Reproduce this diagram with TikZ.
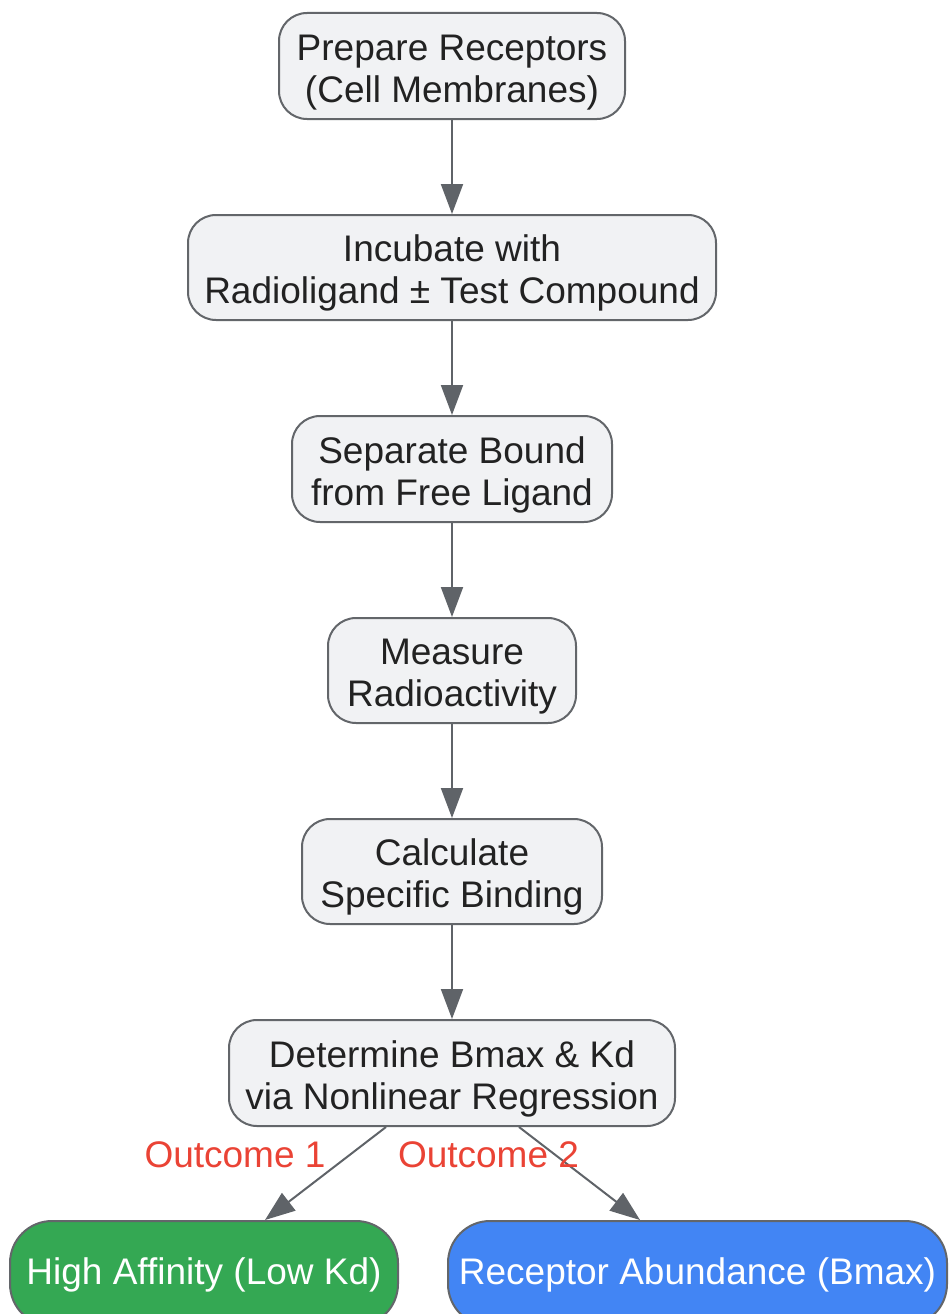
\documentclass[tikz,border=0pt]{standalone}
\usepackage{fontspec}
\setmainfont{Liberation Sans}
\usetikzlibrary{arrows.meta,calc}
\definecolor{boxfill}{HTML}{F1F2F4}
\definecolor{boxline}{HTML}{63666A}
\definecolor{txt}{HTML}{222222}
\definecolor{arr}{HTML}{5F6368}
\definecolor{gfill}{HTML}{34A853}
\definecolor{bfill}{HTML}{4285F4}
\definecolor{lab}{HTML}{EA4335}
\newcommand\twoln[2]{\rule{0pt}{40pt}#1\\#2\rule[-10pt]{0pt}{10pt}}
\newcommand\oneln[1]{\rule{0pt}{36pt}#1\rule[-15pt]{0pt}{15pt}}
\begin{document}
\begin{tikzpicture}[x=1pt,y=-1pt,
  stepbox/.style={draw=boxline,fill=boxfill,line width=2pt,rounded corners=28pt,
    align=center,text=txt,inner sep=0pt,font=\fontsize{37}{42}\selectfont},
  endbox/.style={draw=boxline,line width=2pt,rounded corners=42pt,
    align=center,text=white,inner sep=0pt,font=\fontsize{37}{42}\selectfont},
  conn/.style={draw=arr,line width=2pt,-{Triangle[length=30pt,width=22pt]}},
  elabel/.style={text=lab,font=\fontsize{37}{42}\selectfont,inner sep=0pt}]
\clip (0,0) rectangle (949,1314);
\node[stepbox,minimum width=346pt,minimum height=106pt] (prep) at (452,66) {\twoln{Prepare Receptors}{(Cell Membranes)}};
\node[stepbox,minimum width=528pt,minimum height=105pt] (inc) at (452,267.5) {\twoln{Incubate with}{Radioligand ± Test Compound}};
\node[stepbox,minimum width=320pt,minimum height=106pt] (sep) at (452,469) {\twoln{Separate Bound}{from Free Ligand}};
\node[stepbox,minimum width=248pt,minimum height=105pt] (meas) at (452,670.5) {\twoln{Measure}{Radioactivity}};
\node[stepbox,minimum width=300pt,minimum height=105pt] (calc) at (452,871.5) {\twoln{Calculate}{Specific Binding}};
\node[stepbox,minimum width=446pt,minimum height=106pt] (det) at (452,1073) {\twoln{Determine Bmax \& Kd}{via Nonlinear Regression}};
\node[endbox,fill=gfill,minimum width=388pt,minimum height=105pt] (green) at (204,1273.5) {\oneln{High Affinity (Low Kd)}};
\node[endbox,fill=bfill,minimum width=499pt,minimum height=105pt] (blue) at (697.5,1273.5) {\oneln{Receptor Abundance (Bmax)}};
\draw[conn] (prep) -- (inc);
\draw[conn] (inc) -- (sep);
\draw[conn] (sep) -- (meas);
\draw[conn] (meas) -- (calc);
\draw[conn] (calc) -- (det);
\draw[conn] ($(det.south)+(-66,0)$) -- ($(green.north)+(61,0)$);
\draw[conn] ($(det.south)+(67,0)$) -- ($(blue.north)+(-57.5,0)$);
\node[elabel] (o1) at (235,1155) {Outcome 1};
\node[elabel] (o2) at (488.5,1155) {Outcome 2};
\end{tikzpicture}
\end{document}
